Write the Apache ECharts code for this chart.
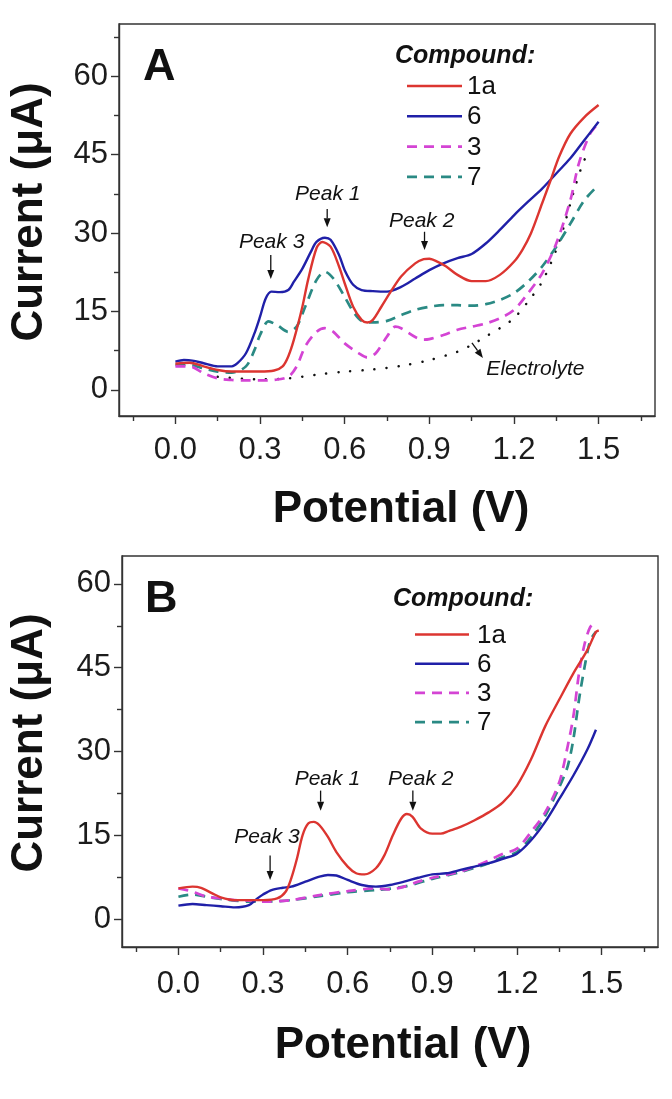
<!DOCTYPE html>
<html><head><meta charset="utf-8">
<script src="https://cdn.jsdelivr.net/npm/echarts@6/dist/echarts.min.js"></script>
<style>html,body{margin:0;padding:0;background:#fff}#c{width:672px;height:1099px}</style>
</head><body><div id="c"></div>
<script>
// ---------- tick labels ----------
const xTickValues = [0, 0.3, 0.6, 0.9, 1.2, 1.5];
const xMinorValues = [-0.15, 0.15, 0.45, 0.75, 1.05, 1.35, 1.65];
const yTickValues = [0, 15, 30, 45, 60];
const yMinorA = [7.5, 22.5, 37.5, 52.5, 67.5];
const yMinorB = [7.5, 22.5, 37.5, 52.5];
const compounds = ['1a', '6', '3', '7'];

// ---------- Panel A data (Potential V, Current µA) ----------
const aV_1a = [0,0.05,0.1,0.15,0.2,0.25,0.3,0.35,0.38,0.4,0.42,0.45,0.47,0.5,0.52,0.55,0.58,0.6,0.63,0.66,0.68,0.7,0.73,0.76,0.8,0.85,0.88,0.9,0.93,0.96,1.0,1.05,1.1,1.15,1.2,1.23,1.26,1.3,1.33,1.36,1.4,1.45,1.5];
const aI_1a = [5.0,5.2,4.5,3.8,3.5,3.5,3.5,3.7,4.5,6.4,9.6,15.9,21.0,27.1,28.3,27.4,23.6,20.4,15.9,13.4,12.9,13.4,15.9,18.5,21.7,24.2,25.0,25.1,24.5,23.6,22.0,20.8,20.8,22.0,24.5,26.8,29.9,35.7,40.1,44.6,49.0,52.2,54.5];

const aV_6 = [0,0.03,0.06,0.1,0.15,0.2,0.22,0.25,0.28,0.3,0.32,0.34,0.37,0.4,0.42,0.45,0.48,0.5,0.53,0.55,0.58,0.6,0.63,0.66,0.7,0.75,0.8,0.85,0.9,0.95,1.0,1.05,1.1,1.15,1.2,1.25,1.3,1.35,1.4,1.45,1.5];
const aI_6 = [5.4,5.7,5.6,5.1,4.5,4.5,5.1,7.0,10.8,14.0,17.5,18.8,18.7,19.1,20.7,23.2,26.4,28.3,29.1,28.7,25.8,22.9,20.1,19.1,18.9,18.8,19.7,21.3,22.9,24.2,25.2,26.0,28.0,30.6,33.4,36.0,38.5,41.4,44.3,47.8,51.3];

const aV_3 = [0,0.05,0.1,0.15,0.2,0.25,0.3,0.35,0.4,0.43,0.46,0.5,0.53,0.56,0.6,0.65,0.68,0.71,0.75,0.78,0.8,0.85,0.88,0.9,0.95,1.0,1.05,1.1,1.15,1.2,1.25,1.3,1.35,1.4,1.43,1.47,1.5];
const aI_3 = [4.5,4.5,3.2,2.2,1.9,1.8,1.8,1.9,2.5,4.5,8.3,11.1,11.8,11.1,8.9,7.0,6.2,7.0,10.2,12.1,11.8,10.1,9.6,9.7,10.5,11.5,12.1,12.7,13.7,15.3,18.5,22.3,28.0,36.3,43.3,49.0,51.0];

const aV_7 = [0,0.05,0.1,0.15,0.2,0.25,0.28,0.3,0.33,0.36,0.4,0.43,0.46,0.5,0.53,0.56,0.6,0.63,0.66,0.7,0.75,0.8,0.85,0.9,0.95,1.0,1.05,1.1,1.15,1.2,1.25,1.3,1.35,1.4,1.45,1.5];
const aI_7 = [4.8,4.8,4.1,3.5,3.3,4.5,7.6,10.5,13.1,12.4,11.1,12.1,15.9,21.0,22.6,21.3,17.8,15.0,13.2,12.9,13.2,14.3,15.3,15.9,16.2,16.2,16.1,16.4,17.2,18.5,20.7,23.6,27.4,31.8,36.3,39.2];

const aV_el = [0.15,0.3,0.4,0.5,0.6,0.7,0.8,0.9,1.0,1.05,1.1,1.15,1.2,1.25,1.3,1.35,1.38,1.41,1.44,1.46];
const aI_el = [2.5,2.0,2.2,2.9,3.5,3.9,4.6,5.7,7.3,8.6,10.2,11.8,13.7,16.9,20.7,26.8,31.8,37.6,42.7,45.2];

// ---------- Panel B data ----------
const bV_1a = [0,0.05,0.08,0.12,0.15,0.2,0.25,0.3,0.35,0.38,0.4,0.42,0.44,0.46,0.48,0.5,0.53,0.56,0.6,0.63,0.66,0.7,0.73,0.76,0.79,0.81,0.83,0.86,0.9,0.93,0.96,1.0,1.05,1.1,1.15,1.2,1.25,1.3,1.35,1.4,1.45,1.48,1.49];
const bI_1a = [5.5,5.8,5.6,4.6,3.9,3.4,3.4,3.4,3.7,4.9,7.3,10.8,15.0,17.1,17.4,16.8,14.7,12.0,9.4,8.2,8.0,9.1,11.4,15.0,18.0,18.8,18.3,16.2,15.3,15.3,15.8,16.5,17.7,19.1,20.9,23.9,28.6,34.5,39.3,44.0,48.2,51.4,51.7];

const bV_6 = [0,0.05,0.1,0.15,0.2,0.25,0.28,0.3,0.33,0.37,0.4,0.45,0.5,0.53,0.56,0.6,0.65,0.7,0.75,0.8,0.85,0.9,0.95,1.0,1.05,1.1,1.15,1.2,1.25,1.3,1.35,1.4,1.45,1.48];
const bI_6 = [2.4,2.7,2.5,2.3,2.1,2.5,3.7,4.4,5.2,5.6,5.8,6.7,7.6,7.9,7.8,7.0,6.1,5.8,6.1,6.7,7.4,8.0,8.2,8.8,9.4,10.0,10.8,11.7,14.1,17.4,21.5,25.7,30.4,33.9];

const bV_3 = [0,0.05,0.1,0.15,0.2,0.25,0.3,0.4,0.5,0.6,0.7,0.75,0.8,0.85,0.9,1.0,1.05,1.1,1.15,1.2,1.25,1.3,1.35,1.38,1.4,1.42,1.44,1.46,1.48];
const bI_3 = [5.5,4.9,4.0,3.7,3.4,3.3,3.1,3.4,4.3,5.0,5.5,5.3,5.8,6.7,7.4,8.5,9.4,10.5,11.7,12.6,15.6,19.1,24.5,31.0,36.3,44.0,49.3,52.3,53.2];

const bV_7 = [0,0.05,0.1,0.15,0.2,0.25,0.3,0.4,0.5,0.6,0.7,0.8,0.9,1.0,1.1,1.15,1.2,1.25,1.3,1.35,1.38,1.4,1.42,1.44,1.46,1.48];
const bI_7 = [4.0,4.4,4.0,3.6,3.3,3.1,3.1,3.4,4.1,4.8,5.2,5.8,7.2,8.4,10.0,11.1,12.0,14.7,18.5,23.6,27.4,32.2,39.3,45.2,49.9,51.4];

// ---------- annotations (data coordinates) ----------
const annotA = [
  {text: 'Peak 3', tx: 0.341, ty: 28.3, ax: 0.338, ay1: 25.8, ay2: 21.2},
  {text: 'Peak 1', tx: 0.54, ty: 37.5, ax: 0.538, ay1: 34.6, ay2: 31.1},
  {text: 'Peak 2', tx: 0.873, ty: 32.3, ax: 0.883, ay1: 30.25, ay2: 26.75}
];
const electrolyteNote = {text: 'Electrolyte', tx: 1.276, ty: 4.0, x1: 1.051, y1: 8.98, x2: 1.09, y2: 6.1};
const annotB = [
  {text: 'Peak 1', tx: 0.528, ty: 25.1, ax: 0.504, ay1: 23.0, ay2: 19.4},
  {text: 'Peak 2', tx: 0.859, ty: 25.1, ax: 0.831, ay1: 23.0, ay2: 19.4},
  {text: 'Peak 3', tx: 0.314, ty: 14.7, ax: 0.325, ay1: 11.4, ay2: 7.0}
];

// ---------- styling ----------
const FONT = '"Liberation Sans", Arial, Helvetica, sans-serif';
const colors = {'1a': '#dc3530', '6': '#2020a8', '3': '#d444d4', '7': '#2a8a84'};
const dashes = {'1a': null, '6': null, '3': [10, 7], '7': [10, 7]};
const AX = '#333';

const zip = (xs, ys) => xs.map((x, i) => [x, ys[i]]);

function axesFor(gridIndex, yMax, yMinor, labelMargin) {
  const xMain = {
    type: 'value', gridIndex, position: 'bottom', min: -0.2, max: 1.7,
    axisLine: {show: true, onZero: false, lineStyle: {color: AX, width: 1.4}},
    axisTick: {show: true, inside: false, customValues: xTickValues, length: 8, lineStyle: {color: AX, width: 1.4}},
    axisLabel: {customValues: xTickValues, formatter: v => v.toFixed(1), fontSize: 31, fontFamily: FONT, color: '#1c1c1c', margin: labelMargin},
    splitLine: {show: false}
  };
  const xMin = {
    type: 'value', gridIndex, position: 'bottom', min: -0.2, max: 1.7,
    axisLine: {show: false, onZero: false},
    axisTick: {show: true, inside: false, customValues: xMinorValues, length: 5, lineStyle: {color: AX, width: 1.4}},
    axisLabel: {show: false}, splitLine: {show: false}
  };
  const yMain = {
    type: 'value', gridIndex, position: 'left', min: -5, max: yMax,
    axisLine: {show: true, onZero: false, lineStyle: {color: AX, width: 1.4}},
    axisTick: {show: true, inside: false, customValues: yTickValues, length: 8, lineStyle: {color: AX, width: 1.4}},
    axisLabel: {customValues: yTickValues, fontSize: 31, fontFamily: FONT, color: '#1c1c1c', margin: 11},
    splitLine: {show: false}
  };
  const yMin = {
    type: 'value', gridIndex, position: 'left', min: -5, max: yMax,
    axisLine: {show: false, onZero: false},
    axisTick: {show: true, inside: false, customValues: yMinor, length: 5, lineStyle: {color: AX, width: 1.4}},
    axisLabel: {show: false}, splitLine: {show: false}
  };
  return {x: [xMain, xMin], y: [yMain, yMin]};
}

const axA = axesFor(0, 70, yMinorA, 19);
const axB = axesFor(1, 65, yMinorB, 22);

function lineSeries(name, data, axisIdx) {
  const dashed = Array.isArray(dashes[name]);
  return {
    name, type: 'line', data, xAxisIndex: axisIdx, yAxisIndex: axisIdx,
    showSymbol: false, symbol: 'none', smooth: 0.3,
    lineStyle: {color: colors[name], width: dashed ? 2.7 : 2.4, type: dashed ? dashes[name] : 'solid'},
    itemStyle: {color: colors[name]},
    z: dashed ? 3 : 4, animation: false
  };
}

const series = [
  {name: 'Electrolyte', type: 'line', data: zip(aV_el, aI_el), xAxisIndex: 0, yAxisIndex: 0,
   showSymbol: false, symbol: 'none', smooth: 0.3,
   lineStyle: {color: '#111', width: 2.5, type: [0.1, 12], cap: 'round'}, z: 2, animation: false},
  lineSeries('7', zip(aV_7, aI_7), 0),
  lineSeries('3', zip(aV_3, aI_3), 0),
  lineSeries('6', zip(aV_6, aI_6), 0),
  lineSeries('1a', zip(aV_1a, aI_1a), 0),
  lineSeries('7', zip(bV_7, bI_7), 2),
  lineSeries('3', zip(bV_3, bI_3), 2),
  lineSeries('6', zip(bV_6, bI_6), 2),
  lineSeries('1a', zip(bV_1a, bI_1a), 2)
];

const chart = echarts.init(document.getElementById('c'), null, {renderer: 'canvas'});
chart.setOption({
  backgroundColor: '#fff',
  animation: false,
  grid: [
    {left: 119, top: 24, width: 536, height: 392, show: true, borderColor: AX, borderWidth: 1.4, backgroundColor: 'transparent'},
    {left: 122, top: 556, width: 536, height: 391, show: true, borderColor: AX, borderWidth: 1.4, backgroundColor: 'transparent'}
  ],
  xAxis: [...axA.x, ...axB.x],
  yAxis: [...axA.y, ...axB.y],
  series
});

// ---------- text, labels, arrows, legend ----------
const g = [];
function txt(x, y, text, font, extra, align) {
  g.push(Object.assign({type: 'text', x, y, style: {text, font, fill: '#111', align: align || 'center', verticalAlign: 'middle'}, z: 10}, extra || {}));
}
// axis titles
txt(401, 510, 'Potential (V)', 'bold 44px ' + FONT);
txt(403, 1046, 'Potential (V)', 'bold 44px ' + FONT);
txt(30, 212, 'Current (μA)', 'bold 44px ' + FONT, {rotation: Math.PI / 2});
txt(30, 743, 'Current (μA)', 'bold 44px ' + FONT, {rotation: Math.PI / 2});
// panel letters
txt(143, 68, 'A', 'bold 45px ' + FONT, null, 'left');
txt(145, 600, 'B', 'bold 45px ' + FONT, null, 'left');
// legend titles
txt(395, 56, 'Compound:', 'italic bold 25px ' + FONT, null, 'left');
txt(393, 599, 'Compound:', 'italic bold 25px ' + FONT, null, 'left');

// legend rows (drawn from the series' own style tables)
function legendRows(x0, lineLen, gapText, y0, step) {
  compounds.forEach((name, i) => {
    const y = y0 + i * step;
    const dashed = Array.isArray(dashes[name]);
    g.push({type: 'line', shape: {x1: x0, y1: y, x2: x0 + lineLen, y2: y},
      style: {stroke: colors[name], lineWidth: dashed ? 2.7 : 2.4, lineDash: dashed ? dashes[name] : null}, z: 10});
    txt(x0 + lineLen + gapText, y + 1, name, '26px ' + FONT, null, 'left');
  });
}
legendRows(407, 55, 5, 86, 30.3);
legendRows(415, 54, 8, 634.5, 29.2);

function arrow(p1, p2) {
  const dx = p2[0] - p1[0], dy = p2[1] - p1[1];
  const len = Math.hypot(dx, dy), ux = dx / len, uy = dy / len;
  const hl = 9, hw = 3.5;
  const base = [p2[0] - ux * hl, p2[1] - uy * hl];
  g.push({type: 'line', shape: {x1: p1[0], y1: p1[1], x2: base[0], y2: base[1]}, style: {stroke: '#111', lineWidth: 1.3}, z: 10});
  g.push({type: 'polygon', shape: {points: [p2, [base[0] - uy * hw, base[1] + ux * hw], [base[0] + uy * hw, base[1] - ux * hw]]}, style: {fill: '#111'}, z: 10});
}
function annotate(list, axisIdx) {
  const f = {xAxisIndex: axisIdx, yAxisIndex: axisIdx};
  list.forEach(a => {
    const t = chart.convertToPixel(f, [a.tx, a.ty]);
    txt(t[0], t[1], a.text, 'italic 21px ' + FONT);
    arrow(chart.convertToPixel(f, [a.ax, a.ay1]), chart.convertToPixel(f, [a.ax, a.ay2]));
  });
}
annotate(annotA, 0);
annotate(annotB, 2);
{
  const e = electrolyteNote, f = {xAxisIndex: 0, yAxisIndex: 0};
  const t = chart.convertToPixel(f, [e.tx, e.ty]);
  txt(t[0], t[1], e.text, 'italic 21px ' + FONT);
  arrow(chart.convertToPixel(f, [e.x1, e.y1]), chart.convertToPixel(f, [e.x2, e.y2]));
}
chart.setOption({graphic: g});
</script></body></html>
